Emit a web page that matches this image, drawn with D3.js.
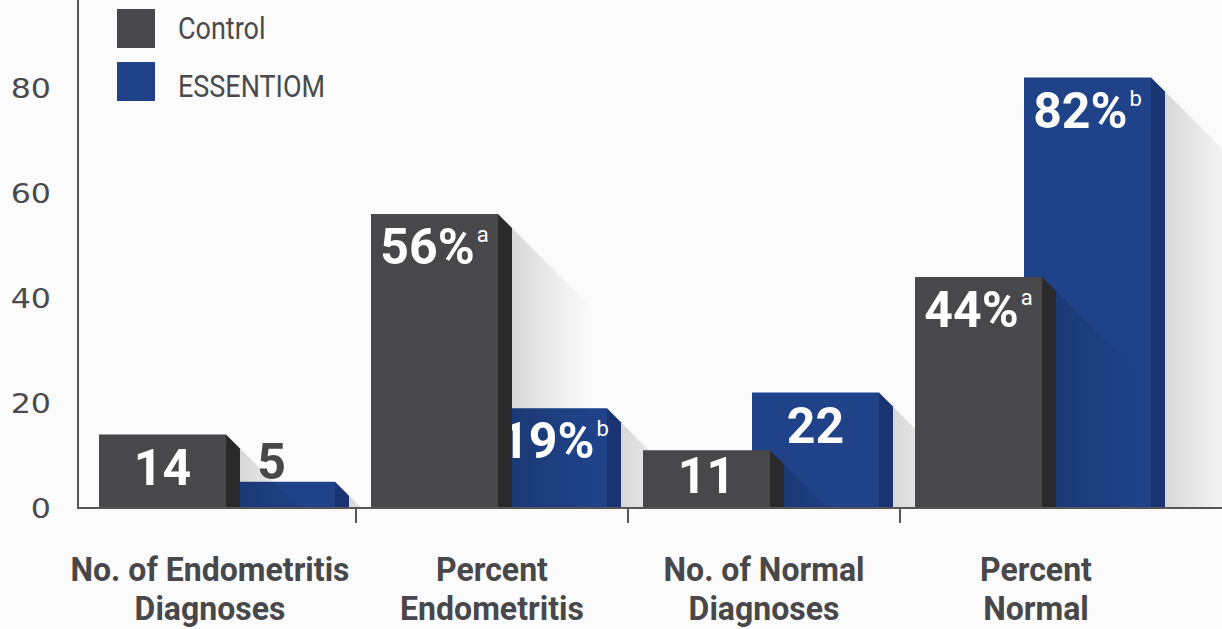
<!DOCTYPE html>
<html>
<head>
<meta charset="utf-8">
<script src="https://cdn.jsdelivr.net/npm/d3@7"></script>
<style>
  html, body { margin: 0; padding: 0; background: #fbfbfb; }
  svg { display: block; }
</style>
</head>
<body>
<svg id="chart" width="1222" height="629"></svg>
<script>
// Chart data
const categories = [
  ["No. of Endometritis", "Diagnoses"],
  ["Percent", "Endometritis"],
  ["No. of Normal", "Diagnoses"],
  ["Percent", "Normal"]
];
const seriesNames = ["Control", "ESSENTIOM"];
const controlValues = [14, 56, 11, 44];
const essentiomValues = [5, 19, 22, 82];
const valueSuffix = ["", "%", "", "%"];
const controlNotes = ["", "a", "", "a"];
const essentiomNotes = ["", "b", "", "b"];
const yTicks = [0, 20, 40, 60, 80];

// Styling
const colors = {
  Control: { front: "#48484b", side: "#2a2a2b" },
  ESSENTIOM: { front: "#1f4288", side: "#1a3471" }
};
const axisColor = "#555557";
const textColor = "#48484b";
const barW = 127, depth = 14, shadowLen = 80;
const controlOffset = 15, essentiomOffset = 15 + 109;

const svg = d3.select("#chart");
const W = 1222, H = 629;

const x = d3.scaleBand().domain(d3.range(categories.length)).range([84, 1172]);
const y = d3.scaleLinear().domain([0, 80]).range([508, 88]);
const base = y(0);

const defs = svg.append("defs");
// soft cast shadow to the lower right of each bar
const grad = defs.append("linearGradient").attr("id", "shadowGrad")
  .attr("x1", 0).attr("x2", 1).attr("y1", 0).attr("y2", 0);
grad.append("stop").attr("offset", 0).attr("stop-color", "#000").attr("stop-opacity", 0.14);
grad.append("stop").attr("offset", 0.6).attr("stop-color", "#000").attr("stop-opacity", 0.05);
grad.append("stop").attr("offset", 1).attr("stop-color", "#000").attr("stop-opacity", 0);
// shadows stay above the baseline
defs.append("clipPath").attr("id", "aboveBase")
  .append("rect").attr("x", 0).attr("y", 0).attr("width", W).attr("height", base);

const plot = svg.append("g");

function drawShadow(g, x0, v) {
  const top = y(v);
  const sx = x0 + barW + depth;
  g.append("path")
    .attr("d", `M${sx},${top + depth}L${sx + shadowLen},${top + depth + shadowLen}L${sx + shadowLen},${base}L${sx},${base}Z`)
    .attr("clip-path", "url(#aboveBase)")
    .attr("fill", "url(#shadowGrad)");
}

function drawBar(g, x0, v, c) {
  const top = y(v);
  g.append("rect")
    .attr("x", x0).attr("y", top)
    .attr("width", barW).attr("height", base - top)
    .attr("fill", c.front);
  g.append("path")
    .attr("d", `M${x0 + barW},${top}L${x0 + barW + depth},${top + depth}L${x0 + barW + depth},${base}L${x0 + barW},${base}Z`)
    .attr("fill", c.side);
}

function drawLabel(g, cx, v, suffix, note, inside) {
  const top = y(v);
  const yy = inside ? Math.min(top + 50, base - 15) : top - 3;
  const t = g.append("text")
    .attr("x", cx).attr("y", yy)
    .attr("text-anchor", "middle")
    .attr("font-family", "Roboto, 'DejaVu Sans', sans-serif")
    .attr("font-weight", 700)
    .attr("font-size", 50)
    .attr("fill", inside ? "#ffffff" : textColor);
  t.append("tspan").text(v + suffix);
  if (note) {
    t.append("tspan")
      .attr("font-size", 22).attr("font-weight", 400)
      .attr("dx", 2).attr("dy", -22)
      .text(note);
  }
}

categories.forEach((cat, i) => {
  const g = plot.append("g");
  const bx = x(i);
  const cx0 = bx + controlOffset;
  const ex0 = bx + essentiomOffset;
  const cv = controlValues[i], ev = essentiomValues[i];

  drawShadow(g, ex0, ev);
  drawBar(g, ex0, ev, colors.ESSENTIOM);
  drawShadow(g, cx0, cv);

  // value for the rear bar
  const eInside = base - y(ev) > 50;
  let eCx = ex0 + barW / 2;
  if (eInside && ev < cv) {
    // centre on the part of the face left uncovered by the front bar
    eCx = (cx0 + barW + depth + ex0 + barW) / 2 - 5;
  }
  drawLabel(g, eCx, ev, valueSuffix[i], essentiomNotes[i], eInside);

  drawBar(g, cx0, cv, colors.Control);
  drawLabel(g, cx0 + barW / 2, cv, valueSuffix[i], controlNotes[i], base - y(cv) > 50);
});

// axes
svg.append("line")
  .attr("x1", 78).attr("x2", 78).attr("y1", 0).attr("y2", base)
  .attr("stroke", axisColor).attr("stroke-width", 2);
svg.append("line")
  .attr("x1", 77).attr("x2", W).attr("y1", base).attr("y2", base)
  .attr("stroke", axisColor).attr("stroke-width", 2);

// separators between category groups
svg.selectAll("line.sep")
  .data(d3.range(1, categories.length))
  .join("line")
  .attr("class", "sep")
  .attr("x1", d => x(d)).attr("x2", d => x(d))
  .attr("y1", base).attr("y2", base + 15)
  .attr("stroke", axisColor).attr("stroke-width", 2);

// y tick labels
const yAxis = svg.append("g")
  .attr("transform", "translate(51,0)")
  .call(d3.axisLeft(y).tickValues(yTicks).tickSize(0).tickPadding(0));
yAxis.select(".domain").remove();
yAxis.selectAll("text")
  .attr("font-family", "'DejaVu Sans', sans-serif")
  .attr("font-size", 26)
  .attr("fill", "#4a4a4c")
  .attr("x", 0)
  .attr("dy", "0.36em")
  .attr("transform", "scale(1.22,1)");

// category labels
const catG = svg.append("g");
categories.forEach((lines, i) => {
  const cx = x(i) + x.bandwidth() / 2 - (i === 0 ? 10 : 0);
  lines.forEach((ln, j) => {
    catG.append("text")
      .attr("transform", `translate(${cx},${581 + j * 39}) scale(0.97,1)`)
      .attr("text-anchor", "middle")
      .attr("font-family", "Roboto, sans-serif")
      .attr("font-weight", 700)
      .attr("font-size", 33)
      .attr("fill", textColor)
      .text(ln);
  });
});

// legend
const legend = svg.append("g");
seriesNames.forEach((name, i) => {
  const ly = 9 + i * 53;
  legend.append("rect")
    .attr("x", 117).attr("y", ly).attr("width", 38).attr("height", 39)
    .attr("fill", colors[name].front);
  legend.append("text")
    .attr("transform", `translate(178,${ly + 30 + i * 5}) scale(0.87,1)`)
    .attr("font-family", "Roboto, sans-serif")
    .attr("font-weight", 400)
    .attr("font-size", 31)
    .attr("fill", "#4a4a4c")
    .text(name);
});
</script>
</body>
</html>
